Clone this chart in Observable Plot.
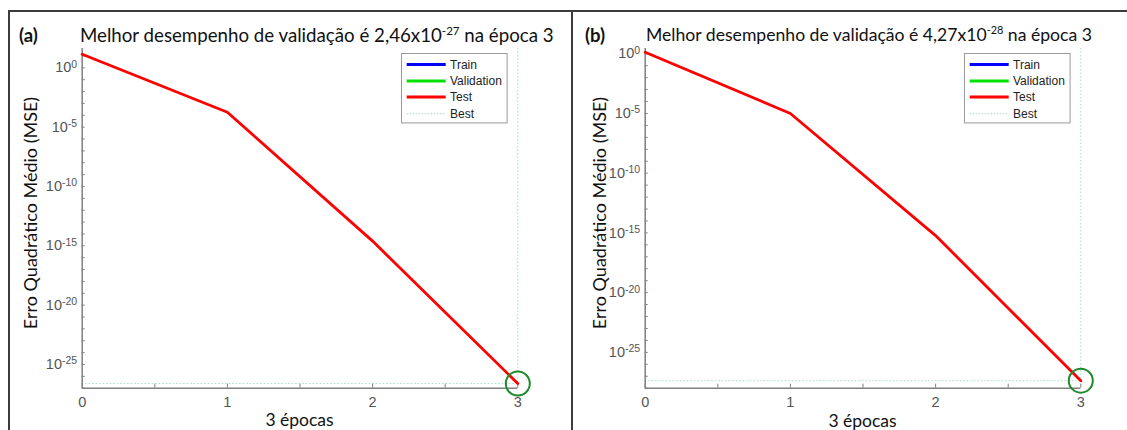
<!DOCTYPE html>
<html><head><meta charset="utf-8">
<script src="https://cdn.jsdelivr.net/npm/d3@7"></script>
<script src="https://cdn.jsdelivr.net/npm/@observablehq/plot@0.6"></script>
<style>
body{margin:0;background:#fff;}
#wrap{position:relative;width:1127px;height:430px;overflow:hidden;font-family:Lato,"Open Sans",sans-serif;color:#111;}
.panel{position:absolute;top:0;width:564px;height:430px;}
.line{position:absolute;background:#3c3c3c;z-index:5;}
.title{position:absolute;line-height:18px;white-space:nowrap;z-index:4;}
.title sup{font-size:0.62em;line-height:0;vertical-align:0;position:relative;top:-7px;}
.tag{position:absolute;font-weight:bold;font-size:18.5px;line-height:18px;z-index:4;}
.ylab{position:absolute;font-size:18px;white-space:nowrap;transform:translate(-50%,-50%) rotate(-90deg);z-index:4;}
.xlab{position:absolute;font-size:17.5px;white-space:nowrap;transform:translate(-50%,-50%);z-index:4;}
.legend{position:absolute;z-index:4;}
</style></head>
<body><div id="wrap"></div>
<script>
// ---- data ----
const epochs = [0, 1, 2, 3];
const trainA = [14, 1.8e-4, 2.5e-15, 2.46e-27];
const validationA = [14, 1.8e-4, 2.5e-15, 2.46e-27];
const testA = [14, 1.8e-4, 2.5e-15, 2.46e-27];
const bestA = 2.46e-27;
const trainB = [1.35, 1.0e-5, 6e-16, 4.27e-28];
const validationB = [1.35, 1.0e-5, 6e-16, 4.27e-28];
const testB = [1.35, 1.0e-5, 6e-16, 4.27e-28];
const bestB = 4.27e-28;
const bestEpoch = 3;
const xTickLabels = [0, 1, 2, 3];
const xMinorTicks = [0, 0.5, 1, 1.5, 2, 2.5, 3];
const yTickLabels = [1e0, 1e-5, 1e-10, 1e-15, 1e-20, 1e-25];
const legendNames = ["Train", "Validation", "Test", "Best"];
const legendColors = ["#0000ff", "#00e000", "#ff0000", "#9fd8c8"];
const titleA = ["Melhor desempenho de validação é 2,46x10", "-27", " na época 3"];
const titleB = ["Melhor desempenho de validação é 4,27x10", "-28", " na época 3"];
const xLabel = "3 épocas";
const yLabel = "Erro Quadrático Médio (MSE)";

const wrap = document.getElementById("wrap");

function makePanel(cfg) {
  const rows = k => epochs.map((e, i) => ({epoch: e, mse: k[i]}));
  const minorY = d3.range(Math.ceil(Math.log10(cfg.yDomain[0])), Math.floor(Math.log10(cfg.yDomain[1])) + 1).map(p => Math.pow(10, p));
  const axisCol = "#808080";
  const plot = Plot.plot({
    width: 564, height: 430,
    marginLeft: 81.7, marginRight: 46.7, marginTop: 48, marginBottom: 42.3,
    style: {background: "transparent", fontFamily: "'Liberation Sans', Arial, sans-serif", overflow: "visible"},
    x: {domain: [0, 3], label: null},
    y: {type: "log", domain: cfg.yDomain, label: null},
    marks: [
      Plot.ruleX([bestEpoch], {stroke: "#a6dccc", strokeWidth: 1, strokeDasharray: "1.5,2"}),
      Plot.ruleY([cfg.best], {stroke: "#a6dccc", strokeWidth: 1, strokeDasharray: "1.5,2"}),
      Plot.axisX({ticks: xMinorTicks, tickSize: 4, dy: -4, tickFormat: () => "", stroke: axisCol, label: null}),
      Plot.axisX({ticks: xTickLabels, tickSize: 0, tickPadding: 9, tickFormat: d => String(d), color: "#555", fontSize: 14.5, label: null}),
      Plot.axisY({ticks: minorY, tickSize: 3, dx: 3, tickFormat: () => "", stroke: axisCol, label: null}),
      Plot.axisY({ticks: yTickLabels, tickSize: 0, tickPadding: 5, tickFormat: d => "10^" + Math.round(Math.log10(d)), color: "#555", fontSize: 14.5, label: null}),
      Plot.ruleX([0], {stroke: axisCol, strokeWidth: 1.5}),
      Plot.ruleY([cfg.yDomain[0]], {stroke: axisCol, strokeWidth: 1.5}),
      Plot.line(rows(cfg.train), {x: "epoch", y: "mse", stroke: legendColors[0], strokeWidth: 1}),
      Plot.line(rows(cfg.validation), {x: "epoch", y: "mse", stroke: legendColors[1], strokeWidth: 1}),
      Plot.line(rows(cfg.test), {x: "epoch", y: "mse", stroke: legendColors[2], strokeWidth: 2.8}),
      Plot.dot([{epoch: bestEpoch, mse: cfg.best}], {x: "epoch", y: "mse", r: 12, stroke: "#1e8a2a", strokeWidth: 2, fill: "none"})
    ]
  });
  // tick label font
  plot.querySelectorAll('g[aria-label="x-axis tick label"] text, g[aria-label="y-axis tick label"] text').forEach(t => {
    t.setAttribute("font-size", "14.5");
    t.style.fontSize = "14.5px";
  });
  // superscript exponents on the y tick labels
  plot.querySelectorAll('g[aria-label="y-axis tick label"] text').forEach(t => {
    const s = t.textContent;
    if (!s.includes("^")) return;
    const exp = s.split("^")[1];
    t.textContent = "10";
    const ts = document.createElementNS("http://www.w3.org/2000/svg", "tspan");
    ts.setAttribute("dy", "-0.45em");
    ts.style.fontSize = "10.5px";
    ts.textContent = exp;
    t.appendChild(ts);
  });
  const div = document.createElement("div");
  div.className = "panel";
  div.style.left = cfg.left + "px";
  div.appendChild(plot);
  wrap.appendChild(div);

  const tag = document.createElement("div");
  tag.className = "tag"; tag.textContent = cfg.tag;
  tag.style.left = cfg.tagX + "px"; tag.style.top = "26px";
  wrap.appendChild(tag);

  const ti = document.createElement("div");
  ti.className = "title";
  ti.style.fontSize = cfg.titleSize + "px";
  ti.append(cfg.title[0]);
  const sup = document.createElement("sup"); sup.textContent = cfg.title[1]; ti.appendChild(sup);
  ti.append(cfg.title[2]);
  ti.style.left = cfg.titleX + "px"; ti.style.top = "26px";
  wrap.appendChild(ti);

  const yl = document.createElement("div");
  yl.className = "ylab"; yl.textContent = yLabel;
  yl.style.left = cfg.ylabX + "px"; yl.style.top = "213px";
  wrap.appendChild(yl);

  const xl = document.createElement("div");
  xl.className = "xlab"; xl.textContent = xLabel;
  xl.style.left = (cfg.left + 299.5) + "px"; xl.style.top = cfg.xlabY + "px";
  wrap.appendChild(xl);

  // legend
  const ns = "http://www.w3.org/2000/svg";
  const lg = document.createElementNS(ns, "svg");
  lg.setAttribute("class", "legend");
  lg.setAttribute("width", 107); lg.setAttribute("height", 71);
  lg.style.position = "absolute";
  lg.style.left = (cfg.left + 401) + "px"; lg.style.top = "52.5px";
  const rect = document.createElementNS(ns, "rect");
  rect.setAttribute("x", 0.5); rect.setAttribute("y", 0.5); rect.setAttribute("width", 105.6); rect.setAttribute("height", 69.4);
  rect.setAttribute("fill", "#fff"); rect.setAttribute("stroke", "#9a9a9a");
  lg.appendChild(rect);
  const ys = [11.5, 28, 44, 60.8];
  legendNames.forEach((n, i) => {
    const l = document.createElementNS(ns, "line");
    l.setAttribute("x1", 5.7); l.setAttribute("x2", 44.7); l.setAttribute("y1", ys[i]); l.setAttribute("y2", ys[i]);
    l.setAttribute("stroke", legendColors[i]);
    l.setAttribute("stroke-width", i === 3 ? 1 : 3);
    if (i === 3) l.setAttribute("stroke-dasharray", "1.5,1.5");
    lg.appendChild(l);
    const t = document.createElementNS(ns, "text");
    t.setAttribute("x", 49); t.setAttribute("y", ys[i]); t.setAttribute("dy", "0.35em");
    t.setAttribute("font-family", "'Liberation Sans', Arial, sans-serif");
    t.setAttribute("font-size", 12); t.setAttribute("fill", "#222");
    t.textContent = n;
    lg.appendChild(t);
  });
  wrap.appendChild(lg);
}

makePanel({left: 0, tagX: 19, tag: "(a)", titleX: 80, titleSize: 18.7, ylabX: 30, title: titleA, train: trainA, validation: validationA, test: testA, best: bestA, yDomain: [1e-27, Math.pow(10, 1.63)], xlabY: 419});
makePanel({left: 563, tagX: 585, tag: "(b)", titleX: 646, titleSize: 17.6, ylabX: 599, title: titleB, train: trainB, validation: validationB, test: testB, best: bestB, yDomain: [1e-28, Math.pow(10, 0.44)], xlabY: 420});

// figure frame lines
[["8px", "10px", "1119px", "1.5px"], ["8px", "10px", "1.5px", "420px"], ["571px", "10px", "1.5px", "420px"]].forEach(([l, t, w, h]) => {
  const d = document.createElement("div");
  d.className = "line";
  Object.assign(d.style, {left: l, top: t, width: w, height: h});
  wrap.appendChild(d);
});
</script>
</body></html>
